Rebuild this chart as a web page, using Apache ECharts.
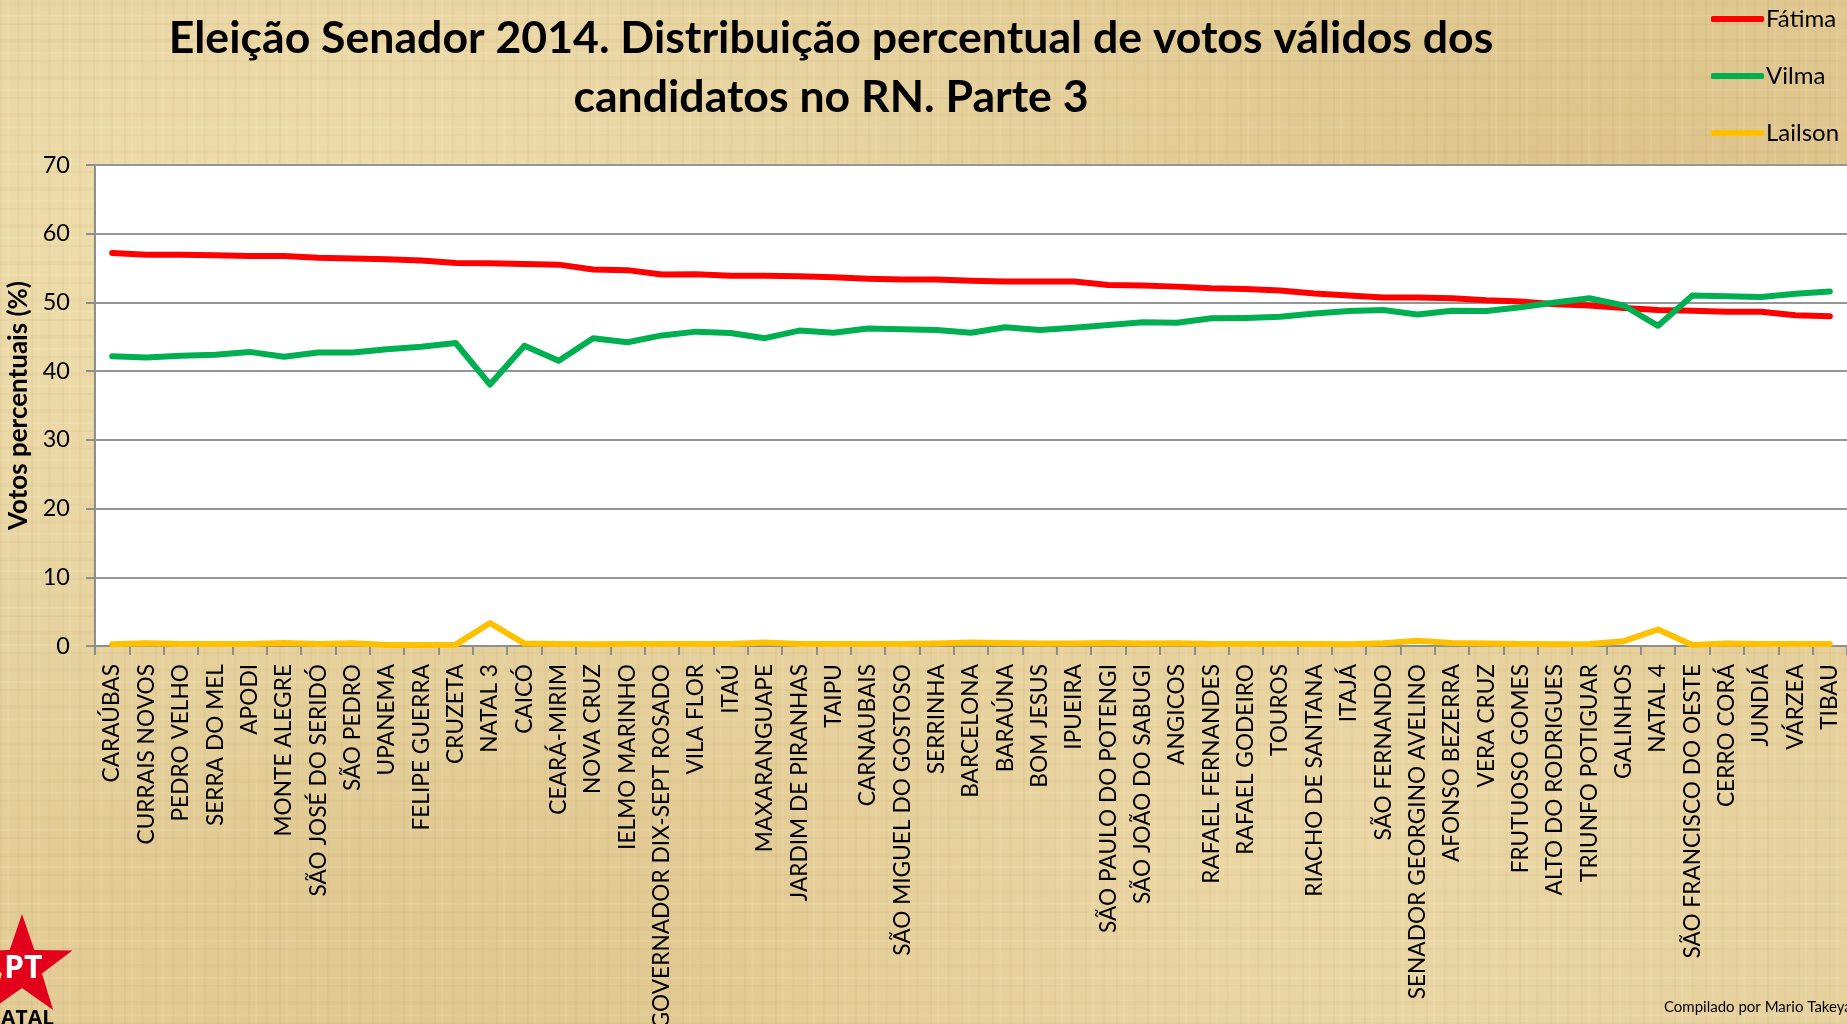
<!DOCTYPE html>
<html>
<head>
<meta charset="utf-8">
<script src="https://cdn.jsdelivr.net/npm/echarts@6/dist/echarts.min.js"></script>
<style>
html, body { margin: 0; padding: 0; }
body {
  width: 1847px; height: 1024px; overflow: hidden;
  background-color: #e4ce99;
  background-image:
    repeating-linear-gradient(90deg, rgba(150,110,40,0.06) 0 2px, rgba(0,0,0,0) 2px 7px, rgba(255,250,220,0.09) 7px 9px, rgba(0,0,0,0) 9px 17px, rgba(150,110,40,0.04) 17px 20px, rgba(0,0,0,0) 20px 31px),
    repeating-linear-gradient(0deg, rgba(150,110,40,0.05) 0 2px, rgba(0,0,0,0) 2px 8px, rgba(255,250,220,0.09) 8px 10px, rgba(0,0,0,0) 10px 19px, rgba(150,110,40,0.04) 19px 23px, rgba(0,0,0,0) 23px 37px),
    radial-gradient(ellipse at 15% 25%, rgba(255,245,205,0.40), rgba(0,0,0,0) 55%),
    radial-gradient(ellipse at 70% 85%, rgba(255,240,200,0.30), rgba(0,0,0,0) 50%),
    radial-gradient(ellipse at 90% 20%, rgba(200,160,90,0.22), rgba(0,0,0,0) 50%),
    radial-gradient(ellipse at 35% 95%, rgba(200,160,90,0.18), rgba(0,0,0,0) 45%);
}
#chart { width: 1847px; height: 1024px; }
</style>
</head>
<body>
<div id="chart"></div>
<script>
var categories = ["CARAÚBAS","CURRAIS NOVOS","PEDRO VELHO","SERRA DO MEL","APODI","MONTE ALEGRE","SÃO JOSÉ DO SERIDÓ","SÃO PEDRO","UPANEMA","FELIPE GUERRA","CRUZETA","NATAL 3","CAICÓ","CEARÁ-MIRIM","NOVA CRUZ","IELMO MARINHO","GOVERNADOR DIX-SEPT ROSADO","VILA FLOR","ITAÚ","MAXARANGUAPE","JARDIM DE PIRANHAS","TAIPU","CARNAUBAIS","SÃO MIGUEL DO GOSTOSO","SERRINHA","BARCELONA","BARAÚNA","BOM JESUS","IPUEIRA","SÃO PAULO DO POTENGI","SÃO JOÃO DO SABUGI","ANGICOS","RAFAEL FERNANDES","RAFAEL GODEIRO","TOUROS","RIACHO DE SANTANA","ITAJÁ","SÃO FERNANDO","SENADOR GEORGINO AVELINO","AFONSO BEZERRA","VERA CRUZ","FRUTUOSO GOMES","ALTO DO RODRIGUES","TRIUNFO POTIGUAR","GALINHOS","NATAL 4","SÃO FRANCISCO DO OESTE","CERRO CORÁ","JUNDIÁ","VÁRZEA","TIBAU"];

var fatima = [57.2,56.95,56.95,56.85,56.75,56.75,56.5,56.4,56.3,56.1,55.75,55.7,55.6,55.5,54.8,54.7,54.05,54.1,53.9,53.9,53.8,53.65,53.45,53.35,53.35,53.15,53.05,53.05,53.05,52.55,52.45,52.3,52.05,51.95,51.75,51.3,51.0,50.7,50.7,50.6,50.3,50.15,49.75,49.55,49.2,48.9,48.8,48.65,48.65,48.15,48.0];

var vilma = [42.15,42.0,42.25,42.4,42.8,42.1,42.7,42.7,43.2,43.55,44.1,38.05,43.7,41.5,44.8,44.2,45.2,45.75,45.55,44.8,45.9,45.6,46.2,46.1,46.0,45.6,46.4,46.0,46.3,46.7,47.1,47.05,47.7,47.75,47.9,48.4,48.75,48.9,48.25,48.8,48.75,49.3,50.0,50.6,49.55,46.6,51.0,50.9,50.8,51.25,51.6];

var lailson = [0.25,0.4,0.3,0.3,0.3,0.45,0.3,0.4,0.15,0.15,0.2,3.35,0.35,0.3,0.25,0.3,0.3,0.3,0.3,0.5,0.3,0.3,0.3,0.3,0.35,0.5,0.45,0.35,0.35,0.45,0.35,0.4,0.3,0.3,0.3,0.3,0.25,0.4,0.75,0.45,0.35,0.3,0.25,0.3,0.7,2.4,0.15,0.35,0.3,0.3,0.3];

var seriesNames = ["Fátima","Vilma","Lailson"];
var yTicks = { min: 0, max: 70, interval: 10 };

var titleText = "Eleição Senador 2014. Distribuição percentual de votos válidos dos\ncandidatos no RN. Parte 3";
var yAxisName = "Votos percentuais (%)";
var creditText = "Compilado por Mario Takeya";

function starPoints(cx, cy, R, r) {
  var pts = [];
  for (var i = 0; i < 10; i++) {
    var a = -Math.PI / 2 + i * Math.PI / 5;
    var rad = (i % 2 === 0) ? R : r;
    pts.push([cx + rad * Math.cos(a), cy + rad * Math.sin(a)]);
  }
  return pts;
}

var FONT = "Lato, 'Open Sans', sans-serif";
var chart = echarts.init(document.getElementById('chart'), null, { renderer: 'canvas' });

var option = {
  backgroundColor: 'transparent',
  animation: false,
  title: {
    text: titleText,
    left: 826,
    top: 4,
    textAlign: 'center',
    textStyle: { fontFamily: FONT, fontWeight: 'bold', fontSize: 44.6, lineHeight: 59, color: '#000' }
  },
  legend: {
    orient: 'vertical',
    left: 1706,
    top: 2,
    itemWidth: 53,
    itemHeight: 6,
    itemGap: 33,
    icon: 'roundRect',
    textStyle: { fontFamily: FONT, fontSize: 24, color: '#000', padding: [0, 0, 0, -3] },
    data: seriesNames
  },
  grid: {
    left: 95, right: 0, top: 165, bottom: 378,
    show: true, backgroundColor: '#ffffff', borderWidth: 0,
    containLabel: false,
    outerBoundsMode: 'none'
  },
  xAxis: {
    type: 'category',
    data: categories,
    boundaryGap: true,
    axisLine: { show: true, lineStyle: { color: '#8e8e8e', width: 2 } },
    axisTick: { show: true, length: 9, alignWithLabel: false, interval: 0, lineStyle: { color: '#8e8e8e', width: 2 } },
    axisLabel: { interval: 0, rotate: 90, margin: 18, fontFamily: FONT, fontSize: 22.7, color: '#000', hideOverlap: false, padding: [5, 0, 0, 0] },
    splitLine: { show: false }
  },
  yAxis: {
    type: 'value',
    min: yTicks.min, max: yTicks.max, interval: yTicks.interval,
    name: yAxisName,
    nameLocation: 'middle',
    nameGap: 62,
    nameTextStyle: { fontFamily: FONT, fontWeight: 'bold', fontSize: 26, color: '#000' },
    axisLine: { show: true, lineStyle: { color: '#8e8e8e', width: 2 } },
    axisTick: { show: true, length: 9, lineStyle: { color: '#8e8e8e', width: 2 } },
    axisLabel: { margin: 25, fontFamily: FONT, fontSize: 23.5, color: '#000' },
    splitLine: { show: true, lineStyle: { color: '#959595', width: 2 } }
  },
  series: [
    { name: seriesNames[0], type: 'line', data: fatima, symbol: 'none', color: '#ff0000',
      lineStyle: { width: 6, color: '#ff0000', cap: 'round', join: 'round' } },
    { name: seriesNames[1], type: 'line', data: vilma, symbol: 'none', color: '#00b050',
      lineStyle: { width: 6, color: '#00b050', cap: 'round', join: 'round' } },
    { name: seriesNames[2], type: 'line', data: lailson, symbol: 'none', color: '#ffc000',
      lineStyle: { width: 6, color: '#ffc000', cap: 'round', join: 'round' } }
  ],
  graphic: [
    { type: 'polygon', shape: { points: starPoints(22, 967, 53, 21) }, style: { fill: '#e3001b' }, z: 10 },
    { type: 'text', left: 4, top: 953, style: { text: 'PT', fill: '#ffffff', font: "bold 32px 'Open Sans', Roboto, sans-serif" }, z: 11 },
    { type: 'text', left: -16, top: 1009, style: { text: 'NATAL', fill: '#000000', font: "bold 21px 'Open Sans', Roboto, sans-serif" }, z: 11 },
    { type: 'text', left: 1664, top: 1000, style: { text: creditText, fill: '#000000', font: "15px Lato, sans-serif" }, z: 11 }
  ]
};
chart.setOption(option);
</script>
</body>
</html>
